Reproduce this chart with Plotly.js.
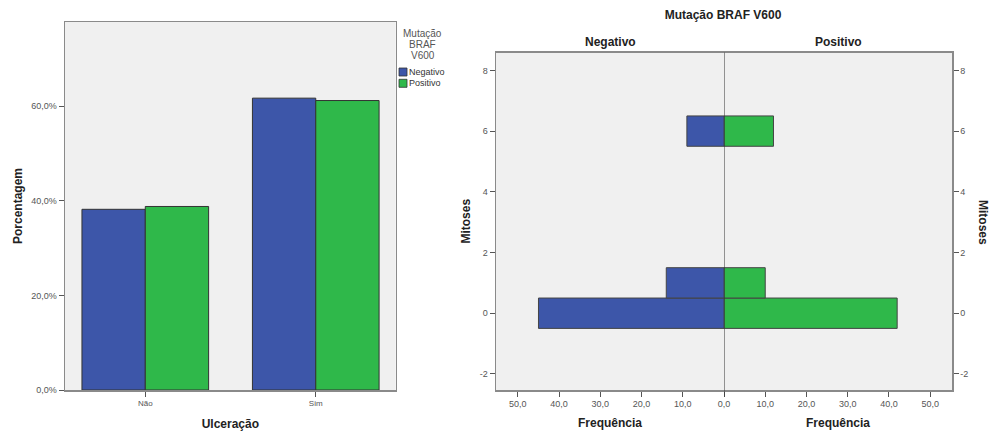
<!DOCTYPE html>
<html>
<head>
<meta charset="utf-8">
<script src="https://cdn.plot.ly/plotly-3.0.1.min.js"></script>
<style>
html,body{margin:0;padding:0;background:#fff;}
#chart{width:991px;height:433px;}
</style>
</head>
<body>
<div id="chart"></div>
<script>
// Left chart: Ulceração by Mutação BRAF V600 (percent)
const ulcCategories = ["Não", "Sim"];
const ulcNegativo = [38.2, 61.7];
const ulcPositivo = [38.8, 61.2];
const pctTicks = [0, 20, 40, 60];
const pctTickLabels = ["0,0%", "20,0%", "40,0%", "60,0%"];

// Right chart: Mitoses frequency pyramid
const mitosesLevels = [0, 1, 6];
const mitNegativo = [45, 14, 9];
const mitPositivo = [42, 10, 12];
const freqTicks = [0, 10, 20, 30, 40, 50];
const mitTicks = [-2, 0, 2, 4, 6, 8];
const mitTickLabels = ["-2", "0", "2", "4", "6", "8"];

const legendTitleLines = ["Mutação", "BRAF", "V600"];
const legendNames = ["Negativo", "Positivo"];

const BLUE = "#3d56a9";
const GREEN = "#2fb84a";
const W = 991, H = 433;
const fx = p => p / W;
const fy = p => 1 - p / H;
const FONT = "Arial, 'Liberation Sans', sans-serif";
const TICKC = "#555";
const LINEC = "#8a8a8a";

const traces = [
  {type: "bar", name: legendNames[0], x: ulcCategories, y: ulcNegativo, xaxis: "x", yaxis: "y",
   marker: {color: BLUE, line: {color: "#333", width: 1}}},
  {type: "bar", name: legendNames[1], x: ulcCategories, y: ulcPositivo, xaxis: "x", yaxis: "y",
   marker: {color: GREEN, line: {color: "#333", width: 1}}},
  {type: "bar", orientation: "h", name: legendNames[0], x: mitNegativo, y: mitosesLevels, width: 1,
   xaxis: "x2", yaxis: "y2", marker: {color: BLUE, line: {color: "#444", width: 1}}},
  {type: "bar", orientation: "h", name: legendNames[1], x: mitPositivo, y: mitosesLevels, width: 1,
   xaxis: "x3", yaxis: "y3", marker: {color: GREEN, line: {color: "#444", width: 1}}}
];

const ttl = t => ({text: "<b>" + t + "</b>", font: {family: FONT, size: 12, color: "#222"}});

const annotations = [
  {text: "<b>Negativo</b>", x: fx(610), y: fy(42), xref: "paper", yref: "paper", showarrow: false,
   font: {family: FONT, size: 12, color: "#222"}, xanchor: "center", yanchor: "middle"},
  {text: "<b>Positivo</b>", x: fx(838), y: fy(42), xref: "paper", yref: "paper", showarrow: false,
   font: {family: FONT, size: 12, color: "#222"}, xanchor: "center", yanchor: "middle"},
  {text: "<b>Mitoses</b>", x: fx(983), y: fy(222), xref: "paper", yref: "paper", showarrow: false,
   textangle: 90, font: {family: FONT, size: 12, color: "#222"}, xanchor: "center", yanchor: "middle"}
];
legendTitleLines.forEach((t, i) => annotations.push({
  text: t, x: fx(422.5), y: fy(33 + i * 11.5), xref: "paper", yref: "paper", showarrow: false,
  borderpad: 0, font: {family: FONT, size: 10, color: "#555"}, xanchor: "center", yanchor: "middle"}));
legendNames.forEach((t, i) => annotations.push({
  text: t, x: fx(408), y: fy(72 + i * 11.3), xref: "paper", yref: "paper", showarrow: false,
  borderpad: 0, font: {family: FONT, size: 9, color: "#333"}, xanchor: "left", yanchor: "middle"}));

const shapes = [
  {type: "line", xref: "x3", yref: "y3 domain", x0: 0, x1: 0, y0: -0.02, y1: 1,
   line: {color: "#333", width: 1}, layer: "above"}
];
[BLUE, GREEN].forEach((c, i) => shapes.push({
  type: "rect", xref: "paper", yref: "paper",
  x0: fx(399), x1: fx(407), y0: fy(76 + i * 11.3), y1: fy(68 + i * 11.3),
  fillcolor: c, line: {color: "#333", width: 0.8}}));

const axBase = {showline: true, linecolor: LINEC, linewidth: 1.5, ticks: "outside", ticklen: 5,
                tickcolor: "#555", showgrid: false, zeroline: false};

const layout = {
  width: W, height: H,
  margin: {l: 0, r: 0, t: 0, b: 0},
  paper_bgcolor: "#fff",
  plot_bgcolor: "#f0f0f0",
  separators: ",.",
  barmode: "group",
  bargap: 0.257,
  bargroupgap: 0,
  showlegend: false,
  font: {family: FONT},
  title: {text: "<b>Mutação BRAF V600</b>", font: {family: FONT, size: 12, color: "#222"},
          x: fx(723), xref: "paper", y: fy(15), yref: "container", xanchor: "center", yanchor: "middle"},
  xaxis: Object.assign({}, axBase, {domain: [fx(65), fx(395.7)], range: [-0.471, 1.469], type: "category",
          mirror: true, anchor: "y", tickfont: {family: FONT, size: 8, color: TICKC},
          title: Object.assign(ttl("Ulceração"), {standoff: 12})}),
  yaxis: Object.assign({}, axBase, {domain: [fy(390), fy(22)], range: [0, 77.8],
          tickvals: pctTicks, ticktext: pctTickLabels,
          mirror: true, anchor: "x", tickfont: {family: FONT, size: 9, color: TICKC},
          title: Object.assign(ttl("Porcentagem"), {standoff: 6})}),
  xaxis2: Object.assign({}, axBase, {domain: [fx(496), fx(724)], range: [55.3, 0],
           tickvals: freqTicks.slice(1), tickformat: ".1f", mirror: true, anchor: "y2",
           tickfont: {family: FONT, size: 9, color: TICKC},
           title: Object.assign(ttl("Frequência"), {standoff: 10})}),
  xaxis3: Object.assign({}, axBase, {domain: [fx(724), fx(952)], range: [0, 55.3],
           tickvals: freqTicks, tickformat: ".1f", mirror: true, anchor: "y3",
           tickfont: {family: FONT, size: 9, color: TICKC},
           title: Object.assign(ttl("Frequência"), {standoff: 10})}),
  yaxis2: Object.assign({}, axBase, {domain: [fy(390), fy(52.5)], range: [-2.53, 8.59],
           tickvals: mitTicks, ticktext: mitTickLabels, anchor: "x2",
           tickfont: {family: FONT, size: 9, color: TICKC},
           title: Object.assign(ttl("Mitoses"), {standoff: 6})}),
  yaxis3: Object.assign({}, axBase, {domain: [fy(390), fy(52.5)], range: [-2.53, 8.59],
           tickvals: mitTicks, ticktext: mitTickLabels, side: "right", anchor: "x3",
           tickfont: {family: FONT, size: 9, color: TICKC}}),
  shapes: shapes,
  annotations: annotations
};

Plotly.newPlot("chart", traces, layout, {displayModeBar: false, staticPlot: true});
</script>
</body>
</html>
